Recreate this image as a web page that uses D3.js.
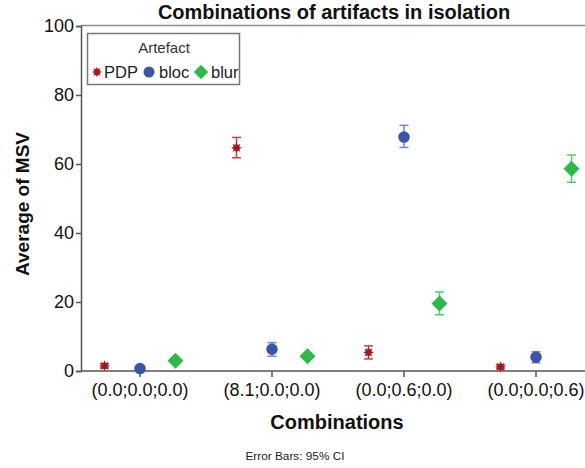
<!DOCTYPE html>
<html><head><meta charset="utf-8">
<script src="https://cdn.jsdelivr.net/npm/d3@7"></script>
<style>body{margin:0;background:#fff}svg{display:block;font-family:"Liberation Sans",Arial,sans-serif}</style>
</head><body>
<svg id="c" width="585" height="468"></svg>
<script>
const categories = ["(0.0;0.0;0.0)", "(8.1;0.0;0.0)", "(0.0;0.6;0.0)", "(0.0;0.0;0.6)"];
const series = ["PDP", "bloc", "blur"];
const meanPDP  = [1.5, 64.7, 5.4, 1.2];
const lowPDP   = [0.9, 61.8, 3.5, 0.7];
const highPDP  = [2.1, 67.7, 7.3, 1.8];
const meanBloc = [0.7, 6.3, 67.8, 4.0];
const lowBloc  = [0.4, 4.3, 64.8, 2.4];
const highBloc = [1.0, 8.2, 71.2, 5.6];
const meanBlur = [3.0, 4.3, 19.6, 58.6];
const lowBlur  = [2.6, 3.7, 16.3, 54.7];
const highBlur = [3.4, 4.9, 22.9, 62.6];
const yTicks = [0, 20, 40, 60, 80, 100];
const colors = {PDP: "#a0191e", bloc: "#3a55a8", blur: "#2fb84a"};
const barColors = {PDP: "#c0454a", bloc: "#6f86c7", blur: "#55cc6c"};

const svg = d3.select("#c");
const x = d3.scaleBand().domain(categories).range([74, 602]);
const xs = d3.scalePoint().domain(series).range([-35.5, 35.5]);
const y = d3.scaleLinear().domain([0, 100]).range([371, 26]);

// frame top
svg.append("line").attr("x1", 81).attr("x2", 585).attr("y1", 25.5).attr("y2", 25.5)
  .attr("stroke", "#8a8a8a").attr("stroke-width", 1.5);

// y axis
const ya = svg.append("g").attr("transform", "translate(81,0)")
  .call(d3.axisLeft(y).tickValues(yTicks).tickSize(5).tickPadding(2).tickFormat(d3.format("d")));
ya.select(".domain").attr("stroke", "#555").attr("stroke-width", 1.5);
ya.selectAll(".tick line").attr("stroke", "#555").attr("stroke-width", 1.5);
ya.selectAll(".tick text").attr("font-size", 18).attr("fill", "#111").attr("font-family", "Liberation Sans, Arial, sans-serif");

// x axis
const xa = svg.append("g").attr("transform", "translate(0,371)")
  .call(d3.axisBottom(x).tickSize(6).tickPadding(6).tickSizeOuter(0));
xa.select(".domain").attr("stroke", "#555").attr("stroke-width", 1.5).attr("d", "M81,0H585");
xa.selectAll(".tick line").attr("stroke", "#555").attr("stroke-width", 1.5);
xa.selectAll(".tick text").attr("font-size", 18).attr("fill", "#111").attr("font-family", "Liberation Sans, Arial, sans-serif");

// titles
svg.append("text").attr("x", 334).attr("y", 19).attr("text-anchor", "middle")
  .attr("font-weight", "bold").attr("font-size", 20).attr("fill", "#111")
  .text("Combinations of artifacts in isolation");
svg.append("text").attr("x", 337).attr("y", 429).attr("text-anchor", "middle")
  .attr("font-weight", "bold").attr("font-size", 20).attr("fill", "#111").text("Combinations");
svg.append("text").attr("transform", "translate(29,204) rotate(-90)").attr("text-anchor", "middle")
  .attr("font-weight", "bold").attr("font-size", 19).attr("fill", "#111").text("Average of MSV");
svg.append("text").attr("x", 295).attr("y", 460).attr("text-anchor", "middle")
  .attr("font-size", 11.8).attr("fill", "#222").text("Error Bars: 95% CI");

function starPath(r1, r2, n) {
  const pts = [];
  for (let i = 0; i < 2 * n; i++) {
    const a = Math.PI * i / n - Math.PI / 2;
    const r = i % 2 ? r2 : r1;
    pts.push([r * Math.cos(a), r * Math.sin(a)]);
  }
  return "M" + pts.map(p => p.join(",")).join("L") + "Z";
}
const shapes = {
  PDP: starPath(5.5, 3, 8),
  bloc: d3.symbol().type(d3.symbolCircle).size(105)(),
  blur: "M0,-8L8,0L0,8L-8,0Z"
};

const data = {
  PDP: [meanPDP, lowPDP, highPDP],
  bloc: [meanBloc, lowBloc, highBloc],
  blur: [meanBlur, lowBlur, highBlur]
};

series.forEach(s => {
  const [m, lo, hi] = data[s];
  const g = svg.append("g");
  categories.forEach((c, i) => {
    const cx = x(c) + x.bandwidth() / 2 + xs(s);
    const eb = g.append("g").attr("stroke", barColors[s]).attr("stroke-width", 1.5);
    eb.append("line").attr("x1", cx).attr("x2", cx).attr("y1", y(lo[i])).attr("y2", y(hi[i]));
    eb.append("line").attr("x1", cx - 4.5).attr("x2", cx + 4.5).attr("y1", y(lo[i])).attr("y2", y(lo[i]));
    eb.append("line").attr("x1", cx - 4.5).attr("x2", cx + 4.5).attr("y1", y(hi[i])).attr("y2", y(hi[i]));
    g.append("path").attr("d", shapes[s]).attr("transform", `translate(${cx},${y(m[i])})`)
      .attr("fill", colors[s]);
  });
});

// legend
const lg = svg.append("g");
lg.append("rect").attr("x", 87.5).attr("y", 33.5).attr("width", 152).attr("height", 51)
  .attr("fill", "#fff").attr("stroke", "#777").attr("stroke-width", 1.5);
lg.append("text").attr("x", 164).attr("y", 53).attr("text-anchor", "middle")
  .attr("font-size", 15).attr("fill", "#333").text("Artefact");
const legX = {PDP: 97, bloc: 149, blur: 201};
const legT = {PDP: 104, bloc: 159, blur: 211};
series.forEach(s => {
  lg.append("path").attr("d", shapes[s]).attr("fill", colors[s])
    .attr("transform", `translate(${legX[s]},72) scale(${s === "blur" ? 0.9 : 0.95})`);
  lg.append("text").attr("x", legT[s]).attr("y", 78).attr("font-size", 16.5).attr("fill", "#222").text(s);
});
</script>
</body></html>
